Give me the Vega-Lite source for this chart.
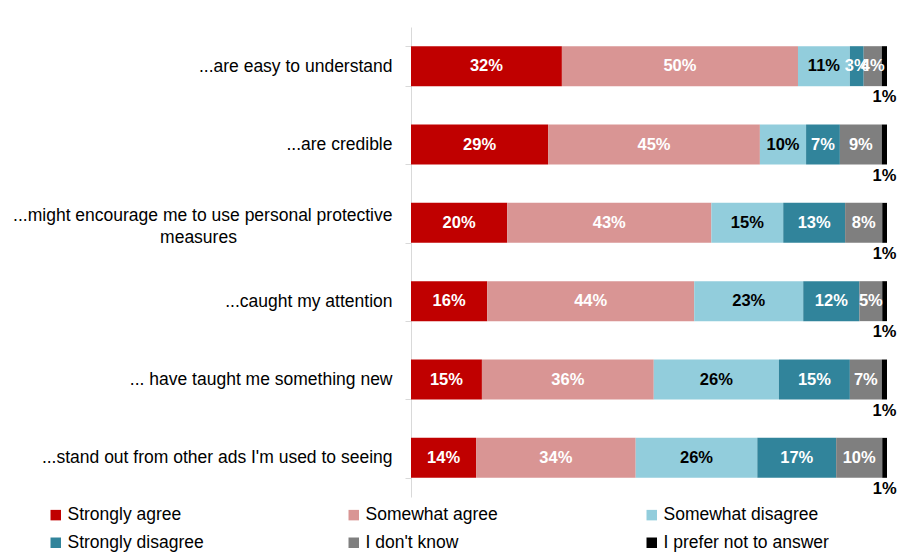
{
  "$schema": "https://vega.github.io/schema/vega-lite/v6.json",
  "width": 476,
  "height": 470,
  "autosize": {"type": "none"},
  "padding": {"left": 411, "top": 27, "right": 13, "bottom": 60},
  "background": "white",
  "config": {
    "font": "Liberation Sans",
    "view": {"stroke": null}
  },
  "data": {
    "values": [
      {"item": "...are easy to understand", "k": 1, "r": "Strongly agree", "v": 0.317},
      {"item": "...are easy to understand", "k": 2, "r": "Somewhat agree", "v": 0.496},
      {"item": "...are easy to understand", "k": 3, "r": "Somewhat disagree", "v": 0.109},
      {"item": "...are easy to understand", "k": 4, "r": "Strongly disagree", "v": 0.029},
      {"item": "...are easy to understand", "k": 5, "r": "I don't know", "v": 0.038},
      {"item": "...are easy to understand", "k": 6, "r": "I prefer not to answer", "v": 0.011},
      {"item": "...are credible", "k": 1, "r": "Strongly agree", "v": 0.288},
      {"item": "...are credible", "k": 2, "r": "Somewhat agree", "v": 0.445},
      {"item": "...are credible", "k": 3, "r": "Somewhat disagree", "v": 0.097},
      {"item": "...are credible", "k": 4, "r": "Strongly disagree", "v": 0.071},
      {"item": "...are credible", "k": 5, "r": "I don't know", "v": 0.088},
      {"item": "...are credible", "k": 6, "r": "I prefer not to answer", "v": 0.011},
      {"item": "...might encourage me to use personal protective measures", "k": 1, "r": "Strongly agree", "v": 0.202},
      {"item": "...might encourage me to use personal protective measures", "k": 2, "r": "Somewhat agree", "v": 0.429},
      {"item": "...might encourage me to use personal protective measures", "k": 3, "r": "Somewhat disagree", "v": 0.151},
      {"item": "...might encourage me to use personal protective measures", "k": 4, "r": "Strongly disagree", "v": 0.13},
      {"item": "...might encourage me to use personal protective measures", "k": 5, "r": "I don't know", "v": 0.078},
      {"item": "...might encourage me to use personal protective measures", "k": 6, "r": "I prefer not to answer", "v": 0.01},
      {"item": "...caught my attention", "k": 1, "r": "Strongly agree", "v": 0.16},
      {"item": "...caught my attention", "k": 2, "r": "Somewhat agree", "v": 0.435},
      {"item": "...caught my attention", "k": 3, "r": "Somewhat disagree", "v": 0.229},
      {"item": "...caught my attention", "k": 4, "r": "Strongly disagree", "v": 0.118},
      {"item": "...caught my attention", "k": 5, "r": "I don't know", "v": 0.048},
      {"item": "...caught my attention", "k": 6, "r": "I prefer not to answer", "v": 0.01},
      {"item": "... have taught me something new", "k": 1, "r": "Strongly agree", "v": 0.149},
      {"item": "... have taught me something new", "k": 2, "r": "Somewhat agree", "v": 0.361},
      {"item": "... have taught me something new", "k": 3, "r": "Somewhat disagree", "v": 0.263},
      {"item": "... have taught me something new", "k": 4, "r": "Strongly disagree", "v": 0.149},
      {"item": "... have taught me something new", "k": 5, "r": "I don't know", "v": 0.067},
      {"item": "... have taught me something new", "k": 6, "r": "I prefer not to answer", "v": 0.011},
      {"item": "...stand out from other ads I'm used to seeing", "k": 1, "r": "Strongly agree", "v": 0.137},
      {"item": "...stand out from other ads I'm used to seeing", "k": 2, "r": "Somewhat agree", "v": 0.336},
      {"item": "...stand out from other ads I'm used to seeing", "k": 3, "r": "Somewhat disagree", "v": 0.256},
      {"item": "...stand out from other ads I'm used to seeing", "k": 4, "r": "Strongly disagree", "v": 0.166},
      {"item": "...stand out from other ads I'm used to seeing", "k": 5, "r": "I don't know", "v": 0.097},
      {"item": "...stand out from other ads I'm used to seeing", "k": 6, "r": "I prefer not to answer", "v": 0.01}
    ]
  },
  "transform": [
    {"stack": "v", "groupby": ["item"], "sort": [{"field": "k", "order": "ascending"}], "as": ["x0", "x1"], "offset": "normalize"},
    {"calculate": "(datum.x0 + datum.x1) / 2", "as": "xm"}
  ],
  "encoding": {
    "y": {
      "field": "item",
      "type": "nominal",
      "sort": null,
      "scale": {"paddingInner": 0.49, "paddingOuter": 0.245},
      "axis": {
        "title": null,
        "labelFontSize": 17.5,
        "labelColor": "#000000",
        "labelPadding": 13,
        "labelLimit": 420,
        "labelOffset": {"condition": {"test": "indexof(datum.label, 'might') >= 0", "value": -7}, "value": 0},
        "labelExpr": "datum.label == '...might encourage me to use personal protective measures' ? ['...might encourage me to use personal protective', 'measures\u00a0\u00a0\u00a0\u00a0\u00a0\u00a0\u00a0\u00a0\u00a0\u00a0\u00a0\u00a0\u00a0\u00a0\u00a0\u00a0\u00a0\u00a0\u00a0\u00a0\u00a0\u00a0\u00a0\u00a0\u00a0\u00a0\u00a0\u00a0\u00a0\u00a0\u00a0\u00a0\u200b'] : datum.label",
        "labelLineHeight": 22,
        "domainColor": "#d9d9d9",
        "tickColor": "#d9d9d9",
        "tickSize": 6,
        "tickBand": "extent",
        "grid": false
      }
    }
  },
  "layer": [
    {
      "mark": {"type": "bar"},
      "encoding": {
        "x": {"field": "x0", "type": "quantitative", "scale": {"domain": [0, 1], "nice": false}, "axis": null},
        "x2": {"field": "x1"},
        "color": {
          "field": "r",
          "type": "nominal",
          "sort": null,
          "scale": {
            "domain": ["Strongly agree", "Somewhat agree", "Somewhat disagree", "Strongly disagree", "I don't know", "I prefer not to answer"],
            "range": ["#C00000", "#D99594", "#92CDDC", "#31849B", "#7F7F7F", "#000000"]
          },
          "legend": {
            "title": null,
            "orient": "none",
            "legendX": -364,
            "legendY": 479,
            "direction": "horizontal",
            "columns": 3,
            "gridAlign": "all",
            "columnPadding": 112,
            "rowPadding": 9,
            "symbolType": "square",
            "symbolSize": 110,
            "symbolStrokeWidth": 0,
            "labelFontSize": 17.5,
            "labelColor": "#000000",
            "labelOffset": 3,
            "labelLimit": 300
          }
        }
      }
    },
    {
      "transform": [{"filter": "datum.r != 'I prefer not to answer'"}],
      "mark": {"type": "text", "fontSize": 16.5, "fontWeight": "bold", "baseline": "middle"},
      "encoding": {
        "x": {"field": "xm", "type": "quantitative"},
        "text": {"field": "v", "type": "quantitative", "format": ".0%"},
        "color": {"condition": {"test": "datum.r == 'Somewhat disagree'", "value": "#000000"}, "value": "#ffffff"}
      }
    },
    {
      "transform": [{"filter": "datum.r == 'I prefer not to answer'"}],
      "mark": {"type": "text", "fontSize": 16.5, "fontWeight": "bold", "baseline": "middle", "dy": 31, "color": "#000000"},
      "encoding": {
        "x": {"field": "xm", "type": "quantitative"},
        "text": {"field": "v", "type": "quantitative", "format": ".0%"}
      }
    }
  ]
}
